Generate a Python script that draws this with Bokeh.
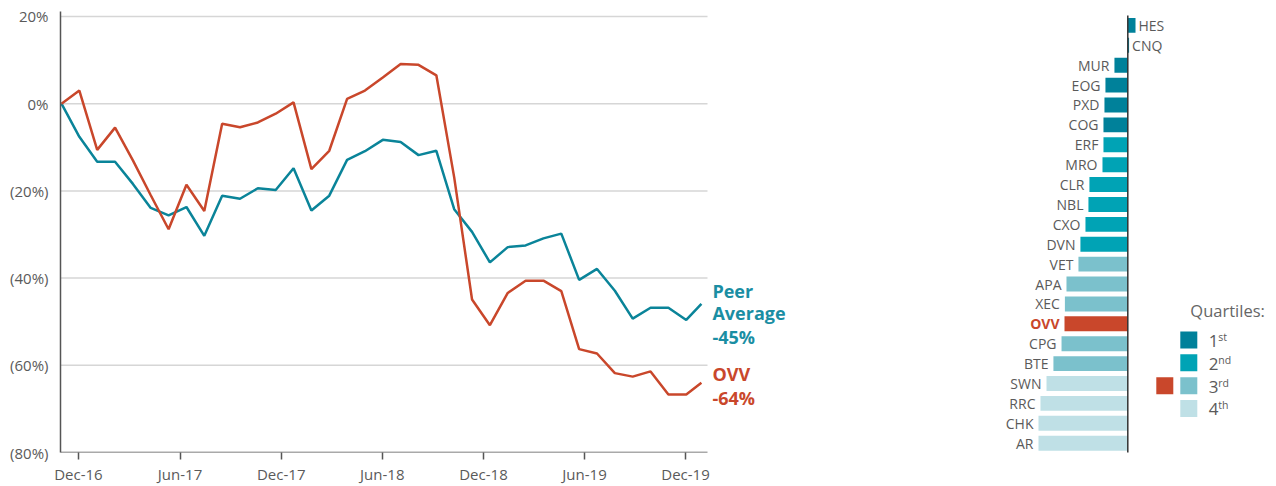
from bokeh.plotting import figure
from bokeh.models import Range1d, FixedTicker, ColumnDataSource
from bokeh.layouts import row
from bokeh.embed import file_html
from bokeh.resources import INLINE
from bokeh.core.properties import value

# ---------------- data: cumulative total shareholder return ----------------
period = list(range(36)) + [35.85]
ovv_ret = [0, 3.0, -10.6, -5.5, -13.0, -21.0, -28.8, -18.6, -24.6, -4.6,
           -5.4, -4.3, -2.3, 0.3, -15.0, -10.8, 1.1, 3.0, 6.0, 9.1,
           8.9, 6.5, -16.9, -44.9, -50.8, -43.4, -40.6, -40.6, -43.0, -56.3,
           -57.3, -61.8, -62.6, -61.4, -66.7, -66.7, -64.0]
peer_ret = [0, -7.6, -13.3, -13.3, -18.4, -23.9, -25.6, -23.7, -30.3, -21.1,
            -21.8, -19.4, -19.8, -14.8, -24.5, -21.1, -12.9, -10.9, -8.3, -8.8,
            -11.8, -10.8, -24.2, -29.4, -36.4, -32.9, -32.5, -30.9, -29.8, -40.4,
            -37.9, -42.9, -49.3, -46.8, -46.8, -49.6, -45.9]
x_tick_pos = [0.95, 6.64, 12.31, 17.97, 23.64, 29.30, 34.96]
x_tick_labels = ["Dec-16", "Jun-17", "Dec-17", "Jun-18", "Dec-18", "Jun-19", "Dec-19"]
y_ticks = [20, 0, -20, -40, -60, -80]
y_tick_labels = ["20%", "0%", "(20%)", "(40%)", "(60%)", "(80%)"]
peer_label = ["Peer", "Average", "-45%"]
ovv_label = ["OVV", "-64%"]

# ---------------- data: peer ranking ----------------
tickers = ["HES", "CNQ", "MUR", "EOG", "PXD", "COG", "ERF", "MRO", "CLR", "NBL", "CXO",
           "DVN", "VET", "APA", "XEC", "OVV", "CPG", "BTE", "SWN", "RRC", "CHK", "AR"]
returns = [7.8, 1.3, -13.5, -22.6, -23.6, -24.6, -24.6, -25.6, -38.8, -39.8, -42.8,
           -47.9, -49.9, -62.0, -63.6, -64.0, -67.0, -75.2, -82.2, -88.3, -90.3, -90.3]
quartile = [1, 1, 1, 1, 1, 1, 2, 2, 2, 2, 2, 2, 3, 3, 3, 3, 3, 3, 4, 4, 4, 4]
legend_digits = ["1", "2", "3", "4"]
legend_suffix = ["st", "nd", "rd", "th"]
legend_title = "Quartiles:"

# ---------------- styles ----------------
FONT = "Open Sans"
RED = "#c9472b"
TEAL = "#0a8499"
TEAL_TXT = "#1a8ea3"
GREY_TXT = "#5a5a5a"
AXIS = "#555555"
Q_COLORS = {1: "#00819a", 2: "#00a3b5", 3: "#7bc1cc", 4: "#bfe0e6"}

# layout (page pixels)
LEFT_W, RIGHT_W, H = 860, 414, 486
FRAME_TOP, FRAME_BOTTOM = 11, 455
X_PX = 17.85          # px per period
X0_PX = 61            # page x of first period
GRID_END_PX = 707     # gridlines end here
Y_PX = 4.39           # px per percent
Y20_PX = 16           # page y of the 20% gridline

# ---------------- left: line chart ----------------
x_start = (60 - X0_PX) / X_PX
x_end = (LEFT_W - X0_PX) / X_PX
grid_end = (GRID_END_PX - X0_PX) / X_PX
p = figure(width=LEFT_W, height=H, x_range=Range1d(x_start, x_end),
           y_range=Range1d(-80, 20 + (Y20_PX - FRAME_TOP) / Y_PX),
           output_backend="svg", toolbar_location=None,
           min_border_left=60, min_border_right=0, min_border_top=FRAME_TOP,
           min_border_bottom=H - FRAME_BOTTOM)
p.outline_line_color = None
p.grid.visible = False

p.yaxis.ticker = FixedTicker(ticks=y_ticks)
p.yaxis.major_label_overrides = dict(zip(y_ticks, y_tick_labels))
p.yaxis.major_tick_line_color = None
p.yaxis.major_tick_out = 0
p.yaxis.major_tick_in = 0
p.yaxis.minor_tick_line_color = None
p.yaxis.axis_line_color = AXIS
p.yaxis.axis_line_width = 1.5
p.yaxis.major_label_standoff = 12
p.yaxis.major_label_text_font = FONT
p.yaxis.major_label_text_font_size = "15px"
p.yaxis.major_label_text_color = GREY_TXT

p.xaxis.ticker = FixedTicker(ticks=x_tick_pos)
p.xaxis.major_label_overrides = dict(zip(x_tick_pos, x_tick_labels))
p.xaxis.major_tick_out = 7
p.xaxis.major_tick_in = 0
p.xaxis.major_tick_line_color = AXIS
p.xaxis.major_tick_line_width = 1.5
p.xaxis.minor_tick_line_color = None
p.xaxis.axis_line_color = None
p.xaxis.major_label_standoff = 4
p.xaxis.major_label_text_font = FONT
p.xaxis.major_label_text_font_size = "15px"
p.xaxis.major_label_text_color = GREY_TXT

# horizontal gridlines and bottom axis line, ending at the last period
grid_y = [t for t in y_ticks if t != -80]
p.segment(x0=[x_start] * len(grid_y), y0=grid_y, x1=[grid_end] * len(grid_y), y1=grid_y,
          line_color="#d6d6d6", line_width=1.5)
p.segment(x0=[x_start], y0=[-80], x1=[grid_end], y1=[-80], line_color=AXIS, line_width=1.5)

p.line(period, peer_ret, line_color=TEAL, line_width=2.5)
p.line(period, ovv_ret, line_color=RED, line_width=2.5)

p.text(x=[period[-1]] * len(peer_label), y=[peer_ret[-1]] * len(peer_label),
       text=peer_label, x_offset=11, y_offset=[-13, 9.5, 33], text_baseline="middle",
       text_align="left", text_font=value(FONT), text_font_size="18px",
       text_font_style="bold", text_color=TEAL_TXT)
p.text(x=[period[-1]] * len(ovv_label), y=[ovv_ret[-1]] * len(ovv_label),
       text=ovv_label, x_offset=11, y_offset=[-9, 15.5], text_baseline="middle",
       text_align="left", text_font=value(FONT), text_font_size="18px",
       text_font_style="bold", text_color=RED)

# ---------------- right: ranking bars ----------------
PX_PER_PCT = 0.989
ROW_PX = 20.03
ZERO_PX = 1127.3
ROW0_PX = 25
q = figure(width=RIGHT_W, height=H,
           x_range=Range1d((LEFT_W - ZERO_PX) / PX_PER_PCT,
                           (LEFT_W + RIGHT_W - ZERO_PX) / PX_PER_PCT),
           y_range=Range1d((FRAME_BOTTOM - ROW0_PX) / ROW_PX, (FRAME_TOP - ROW0_PX) / ROW_PX),
           output_backend="svg", toolbar_location=None,
           min_border_left=0, min_border_right=0, min_border_top=FRAME_TOP,
           min_border_bottom=H - FRAME_BOTTOM,
           x_axis_location=None, y_axis_location=None)
q.outline_line_color = None
q.grid.visible = False

rows = list(range(len(tickers)))
bar_colors = [RED if t == "OVV" else Q_COLORS[qq] for t, qq in zip(tickers, quartile)]
bars = ColumnDataSource(dict(y=rows, left=[min(v, 0) for v in returns],
                             right=[max(v, 0) for v in returns], color=bar_colors))
q.hbar(y="y", left="left", right="right", height=0.75, fill_color="color",
       line_color=None, source=bars)
q.segment(x0=[0], y0=[-0.5], x1=[0], y1=[len(tickers) - 0.5], line_color="#333333",
          line_width=1.5)

neg = [i for i, v in enumerate(returns) if v < 0]
pos = [i for i, v in enumerate(returns) if v >= 0]


def lab_src(idx):
    return ColumnDataSource(dict(
        x=[returns[i] for i in idx], y=[rows[i] for i in idx],
        text=[tickers[i] for i in idx],
        color=[RED if tickers[i] == "OVV" else GREY_TXT for i in idx],
        style=["bold" if tickers[i] == "OVV" else "normal" for i in idx]))


q.text(x="x", y="y", text="text", source=lab_src(neg), x_offset=-5, text_align="right",
       text_baseline="middle", text_font=value(FONT), text_font_size="14px",
       text_color="color", text_font_style="style")
q.text(x="x", y="y", text="text", source=lab_src(pos), x_offset=3, text_align="left",
       text_baseline="middle", text_font=value(FONT), text_font_size="14px",
       text_color="color", text_font_style="style")

# legend (layout positions converted to the bar chart's coordinates)
LEG_X = (1188.3 - ZERO_PX) / PX_PER_PCT
LEG_RED_X = (1164.3 - ZERO_PX) / PX_PER_PCT
LEG_ROW0 = (341.7 - ROW0_PX) / ROW_PX
LEG_STEP = 23 / ROW_PX
leg_rows = [LEG_ROW0 + k * LEG_STEP for k in range(4)]
q.rect(x=[LEG_X] * 4, y=leg_rows, width=17, height=17, width_units="screen",
       height_units="screen", fill_color=[Q_COLORS[k] for k in (1, 2, 3, 4)],
       line_color=None)
ovv_q = quartile[tickers.index("OVV")]
q.rect(x=[LEG_RED_X], y=[leg_rows[ovv_q - 1]], width=17, height=17, width_units="screen",
       height_units="screen", fill_color=RED, line_color=None)
q.text(x=[LEG_X] * 4, y=leg_rows, text=legend_digits, x_offset=20, y_offset=1,
       text_baseline="middle", text_align="left", text_font=value(FONT),
       text_font_size="17px", text_color=GREY_TXT)
q.text(x=[LEG_X] * 4, y=leg_rows, text=legend_suffix, x_offset=29.5, y_offset=-3,
       text_baseline="middle", text_align="left", text_font=value(FONT),
       text_font_size="10.5px", text_color=GREY_TXT)
q.text(x=[LEG_X], y=[LEG_ROW0], text=[legend_title], x_offset=1.5, y_offset=-29,
       text_baseline="middle", text_align="left", text_font=value(FONT),
       text_font_size="16.5px", text_color="#666666")

layout = row(p, q)
open("out.html", "w").write(file_html(layout, INLINE))
